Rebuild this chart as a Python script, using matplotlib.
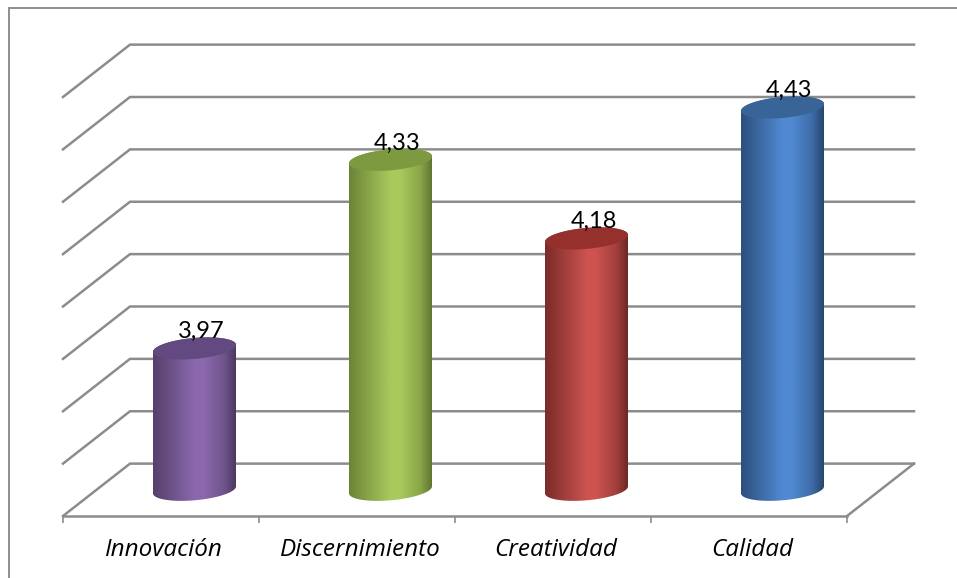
import matplotlib
matplotlib.use('Agg')
import matplotlib.pyplot as plt
from matplotlib.patches import Polygon, Rectangle
from matplotlib.colors import LinearSegmentedColormap, to_rgb
import numpy as np

plt.rcParams['font.family'] = ['Lato', 'DejaVu Sans']

categories = ['Innovación', 'Discernimiento', 'Creatividad', 'Calidad']
values = [3.97, 4.33, 4.18, 4.43]
value_labels = ['3,97', '4,33', '4,18', '4,43']
levels = [3.7, 3.8, 3.9, 4.0, 4.1, 4.2, 4.3, 4.4, 4.5]
edge_colors = ['#54406a', '#6b8437', '#7a2c2a', '#2c4f7c']
mid_colors = ['#8b68ad', '#a8ca5c', '#cc5350', '#5089d2']
top_colors = ['#62497f', '#7d9a41', '#96302c', '#386497']

W, H = 957, 578
grid_color = '#8c8c8c'

# depth of the floor, in data units
depth_x = 67 / 196
depth_y = 0.1

fig = plt.figure(figsize=(W / 100, H / 100), dpi=100)
fig.patches.append(Rectangle((9 / W, -0.01), 1, 1 - 8 / H + 0.01, transform=fig.transFigure,
                             fill=False, edgecolor='#8e8e8e', linewidth=1.4))
ax = fig.add_axes([63 / W, 1 - 516 / H, 784 / W, 419 / H])
ax.patch.set_visible(False)
for s in ['top', 'left', 'right']:
    ax.spines[s].set_visible(False)
ax.spines['bottom'].set_color(grid_color)
ax.spines['bottom'].set_linewidth(1.8)
ax.set_yticks([])
ax.set_xticks(np.arange(4) + 3 / 196)
ax.set_xticklabels(categories, style='italic', family=['Open Sans', 'DejaVu Sans'],
                   fontsize=17.5, color='black')
ax.tick_params(axis='x', which='major', length=0, pad=16)
ax.set_xticks(np.arange(5) - 0.5, minor=True)
ax.tick_params(axis='x', which='minor', length=5, width=1.2, color=grid_color)

# walls: back lines plus left side diagonals
for lev in levels:
    ax.plot([-0.5, -0.5 + depth_x, 3.5 + depth_x],
            [lev, lev + depth_y, lev + depth_y],
            color=grid_color, lw=1.8, clip_on=False, zorder=1, solid_joinstyle='miter')
ax.plot([3.5, 3.5 + depth_x], [levels[0], levels[0] + depth_y],
        color=grid_color, lw=1.8, clip_on=False, zorder=1)

# cylinders
half_w = 41.5 / 196
half_h = 10.5 / 524
tilt = 3.5 / 524
t = np.linspace(0, 2 * np.pi, 200)
for i, v in enumerate(values):
    cx = i + depth_x / 2
    y0 = levels[0] + depth_y / 2
    y1 = v + depth_y / 2
    ex = cx + half_w * np.cos(t)
    ey = half_h * np.sin(t) + tilt * np.cos(t)
    lower = t > np.pi
    upper = ~lower
    # outline: bottom half of base ellipse then top half of top ellipse
    body = np.r_[np.c_[ex[lower], y0 + ey[lower]],
                 np.c_[ex[upper], y1 + ey[upper]]]
    edge = np.array(to_rgb(edge_colors[i]))
    mid = np.array(to_rgb(mid_colors[i]))
    cmap = LinearSegmentedColormap.from_list(
        'c', [(0, edge), (0.5, mid), (0.62, mid), (0.86, (edge + mid) / 2), (1, edge * 0.9)])
    grad = np.linspace(0, 1, 128).reshape(1, -1)
    im = ax.imshow(grad, cmap=cmap, aspect='auto', zorder=3,
                   extent=[cx - half_w, cx + half_w, y0 - 0.04, y1 + 0.04])
    clip = Polygon(body, closed=True, transform=ax.transData, fill=False, edgecolor='none')
    ax.add_patch(clip)
    im.set_clip_path(clip)
    ax.fill(ex, y1 + ey, color=top_colors[i], lw=0, zorder=4, clip_on=False)
    ax.text(cx + 7 / 196, y1 + 0.032, value_labels[i], ha='center', va='center',
            fontsize=17, color='black', zorder=5)
ax.set_xlim(-0.5, 3.5)
ax.set_ylim(3.7, 4.5)

fig.savefig('out.png', dpi=100)
